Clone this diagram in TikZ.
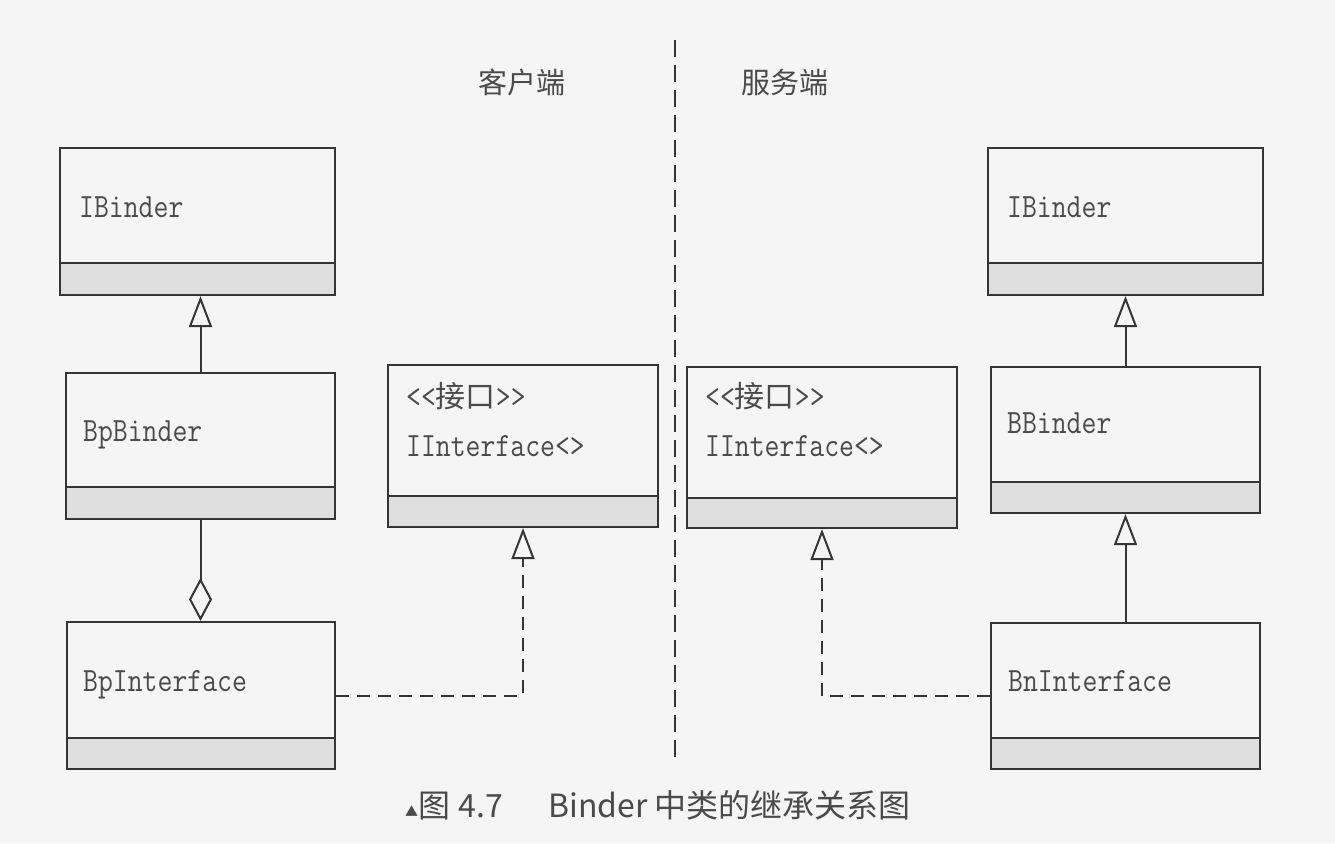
\documentclass[tikz,border=0pt]{standalone}
\usepackage{fontspec}
\usepackage{graphicx}
\newfontfamily\cjk{Noto Sans CJK SC}
\usetikzlibrary{arrows.meta}
\definecolor{ink}{HTML}{353535}
\definecolor{txt}{HTML}{4A4A4A}
\definecolor{compgray}{HTML}{DEDEDE}
\definecolor{paper}{HTML}{F5F5F5}
\newcommand{\clsname}[1]{\scalebox{0.85}[1]{\fontsize{34}{34}\selectfont\ttfamily #1}}
\newcommand{\cjkfix}[1]{{\cjk #1}}
\begin{document}
\begin{tikzpicture}[x=1pt,y=-1pt,
  box/.style={draw=ink, line width=2.2pt, inner sep=0pt},
  comp/.style={fill=compgray},
  sepline/.style={draw=ink, line width=2pt},
  lbl/.style={anchor=base west, inner sep=0pt, text=txt},
  gen/.style={draw=ink, line width=2pt, -{Triangle[open, length=31pt, width=23pt, line width=2pt]}},
  real/.style={draw=ink, line width=2pt, dash pattern=on 13pt off 8pt, -{Triangle[open, length=31pt, width=23pt, line width=2pt, sep=0pt]}},
  agg/.style={draw=ink, line width=2pt, -{Diamond[open, length=43pt, width=23pt, line width=2pt]}},
  divider/.style={draw=ink, line width=2.5pt, dash pattern=on 17pt off 8pt},
  side/.style={anchor=center, inner sep=0pt, text=txt, font=\cjk\fontsize{29}{29}\selectfont},
  captxt/.style={anchor=base west, inner sep=0pt, text=txt, font=\cjk\fontsize{32}{32}\selectfont}
]
\fill[paper] (0,0) rectangle (1335,843);
\useasboundingbox (0,0) rectangle (1335,843);

% compartments
\fill[comp] (60,263) rectangle (335,295);   \draw[sepline] (60,263) -- (335,263);
\fill[comp] (66,487) rectangle (335,519);   \draw[sepline] (66,487) -- (335,487);
\fill[comp] (67,738) rectangle (335,769);   \draw[sepline] (67,738) -- (335,738);
\fill[comp] (388,496) rectangle (658,527);  \draw[sepline] (388,496) -- (658,496);
\fill[comp] (687,498) rectangle (957,528);  \draw[sepline] (687,498) -- (957,498);
\fill[comp] (988,263) rectangle (1263,295); \draw[sepline] (988,263) -- (1263,263);
\fill[comp] (991,482) rectangle (1260,513); \draw[sepline] (991,482) -- (1260,482);
\fill[comp] (991,738) rectangle (1260,769); \draw[sepline] (991,738) -- (1260,738);

% class boxes
\node[box, minimum width=275pt, minimum height=147pt] (ib1) at (197.5,221.5) {};
\node[box, minimum width=269pt, minimum height=146pt] (bpb) at (200.5,446) {};
\node[box, minimum width=268pt, minimum height=147pt] (bpi) at (201,695.5) {};
\node[box, minimum width=270pt, minimum height=162pt] (ii1) at (523,446) {};
\node[box, minimum width=270pt, minimum height=161pt] (ii2) at (822,447.5) {};
\node[box, minimum width=275pt, minimum height=147pt] (ib2) at (1125.5,221.5) {};
\node[box, minimum width=269pt, minimum height=146pt] (bb)  at (1125.5,440) {};
\node[box, minimum width=269pt, minimum height=146pt] (bni) at (1125.5,696) {};

% class names
\node[lbl] (ib1t) at (79,217) {\clsname{IBinder}};
\node[lbl] (bpbt) at (83,441) {\clsname{BpBinder}};
\node[lbl] (bpit) at (83,691) {\clsname{BpInterface}};
\node[lbl] (ii1s) at (406,407) {\clsname{<{}<}\cjkfix{\fontsize{30}{30}\selectfont 接口}\clsname{>{}>}};
\node[lbl] (ii1t) at (406,456) {\clsname{IInterface<>}};
\node[lbl] (ii2s) at (705,407) {\clsname{<{}<}\cjkfix{\fontsize{30}{30}\selectfont 接口}\clsname{>{}>}};
\node[lbl] (ii2t) at (705,456) {\clsname{IInterface<>}};
\node[lbl] (ib2t) at (1007,217) {\clsname{IBinder}};
\node[lbl] (bbt)  at (1007,433) {\clsname{BBinder}};
\node[lbl] (bnit) at (1008,691) {\clsname{BnInterface}};

% side labels and divider
\node[side] (client) at (522,82) {客户端};
\node[side] (server) at (785,82) {服务端};
\coordinate (dtop) at (675,40);
\coordinate (dbot) at (675,760);
\draw[divider] (dtop) -- (dbot);

% connectors
\draw[gen] (bpb.north) -- (bpb.north |- ib1.south);
\draw[agg] (bpb.south) -- (bpb.south |- bpi.north);
\draw[real] (bpi.east) -| (ii1.south);
\draw[gen] (bb.north) -- (bb.north |- ib2.south);
\draw[gen] (bni.north) -- (bni.north |- bb.south);
\draw[real] (bni.west) -| (ii2.south);

% caption
\node[captxt, font=\cjk\fontsize{13}{13}\selectfont] (capA) at (405,816) {▲};
\node[captxt] (capB) at (418,817) {图 \hspace{1pt}4.7};
\node[captxt] (capC) at (548,817) {Binder 中类的继承关系图};
\end{tikzpicture}
\end{document}
